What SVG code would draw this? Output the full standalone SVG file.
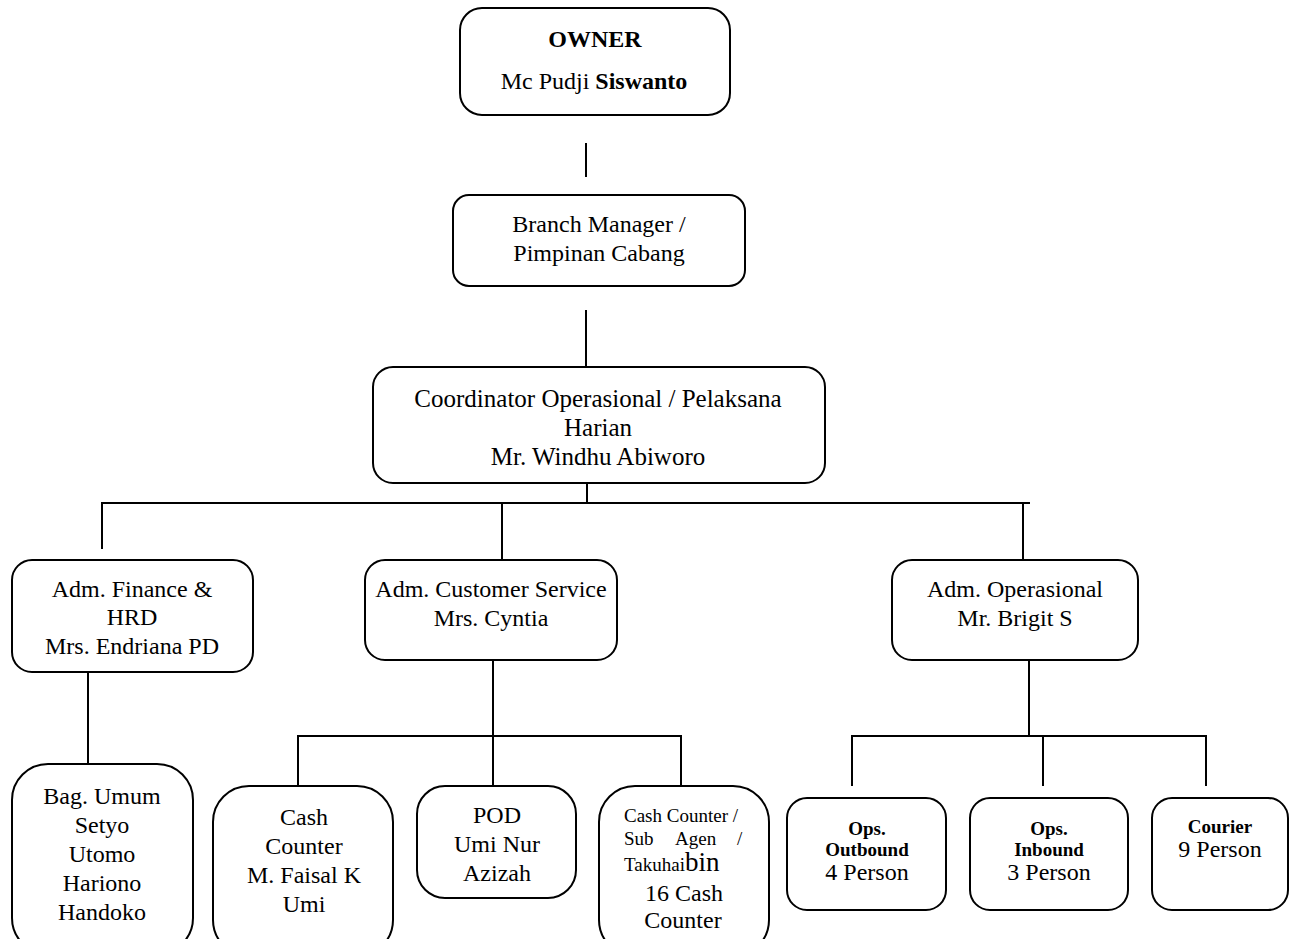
<svg xmlns="http://www.w3.org/2000/svg" width="1297" height="939" viewBox="0 0 1297 939">
<style>
.box{fill:#fff;stroke:#000;stroke-width:2}
.ln{stroke:#000;stroke-width:2;fill:none}
text{font-family:"Liberation Serif","Times New Roman",serif;fill:#000;text-anchor:middle;font-size:24px}
.b{font-weight:bold}
.s{font-size:19px}
.l{text-anchor:start}
.c{font-size:25px}
</style>
<defs>
<clipPath id="clipBottom"><rect x="0" y="0" width="1297" height="929"/></clipPath>
</defs>
<rect width="1297" height="939" fill="#fff"/>
<g id="connectors">
<line class="ln" x1="586" y1="143" x2="586" y2="177"/>
<line class="ln" x1="586" y1="310" x2="586" y2="367"/>
<line class="ln" x1="587" y1="483" x2="587" y2="503"/>
<polyline class="ln" points="102,549 102,503 1030,503"/>
<line class="ln" x1="502" y1="503" x2="502" y2="560"/>
<line class="ln" x1="1023" y1="503" x2="1023" y2="560"/>
<line class="ln" x1="88" y1="672" x2="88" y2="764"/>
<line class="ln" x1="493" y1="660" x2="493" y2="786"/>
<polyline class="ln" points="298,786 298,736 681,736 681,786"/>
<line class="ln" x1="1029" y1="660" x2="1029" y2="736"/>
<polyline class="ln" points="852,786 852,736 1206,736 1206,786"/>
<line class="ln" x1="1043" y1="736" x2="1043" y2="786"/>
</g>
<g id="owner">
<rect class="box" x="460" y="8" width="270" height="107" rx="22"/>
<text class="b" x="595" y="47">OWNER</text>
<text x="594" y="89">Mc Pudji <tspan class="b">Siswanto</tspan></text>
</g>
<g id="branch-manager">
<rect class="box" x="453" y="195" width="292" height="91" rx="16"/>
<text x="599" y="232">Branch Manager /</text>
<text x="599" y="261">Pimpinan Cabang</text>
</g>
<g id="coordinator">
<rect class="box" x="373" y="367" width="452" height="116" rx="20"/>
<text class="c" x="598" y="407">Coordinator Operasional / Pelaksana</text>
<text class="c" x="598" y="436">Harian</text>
<text class="c" x="598" y="465">Mr. Windhu Abiworo</text>
</g>
<g id="adm-finance">
<rect class="box" x="12" y="560" width="241" height="112" rx="20"/>
<text x="132" y="597">Adm. Finance &amp;</text>
<text x="132" y="625">HRD</text>
<text x="132" y="654">Mrs. Endriana PD</text>
</g>
<g id="adm-cs">
<rect class="box" x="365" y="560" width="252" height="100" rx="20"/>
<text x="491" y="597">Adm. Customer Service</text>
<text x="491" y="626">Mrs. Cyntia</text>
</g>
<g id="adm-ops">
<rect class="box" x="892" y="560" width="246" height="100" rx="20"/>
<text x="1015" y="597">Adm. Operasional</text>
<text x="1015" y="626">Mr. Brigit S</text>
</g>
<g id="bag-umum">
<rect class="box" x="12" y="764" width="181" height="190" rx="36"/>
<text x="102" y="804">Bag. Umum</text>
<text x="102" y="833">Setyo</text>
<text x="102" y="862">Utomo</text>
<text x="102" y="891">Hariono</text>
<text x="102" y="920">Handoko</text>
</g>
<g id="cash-counter">
<rect class="box" x="213" y="786" width="180" height="170" rx="36"/>
<text x="304" y="825">Cash</text>
<text x="304" y="854">Counter</text>
<text x="304" y="883">M. Faisal K</text>
<text x="304" y="912">Umi</text>
</g>
<g id="pod">
<rect class="box" x="417" y="786" width="159" height="112" rx="28"/>
<text x="497" y="823">POD</text>
<text x="497" y="852">Umi Nur</text>
<text x="497" y="881">Azizah</text>
</g>
<g id="sub-agen">
<rect class="box" x="599" y="786" width="170" height="170" rx="36"/>
<text class="s l" x="624" y="822">Cash Counter /</text>
<text class="s l" x="624" y="845">Sub</text>
<text class="s l" x="675" y="845">Agen</text>
<text class="s l" x="737" y="845">/</text>
<text class="l" x="624" y="871"><tspan class="s">Takuhai</tspan><tspan font-size="27">bin</tspan></text>
<text x="684" y="901">16 Cash</text>
<text x="683" y="928" font-size="21" clip-path="url(#clipBottom)">Counter</text>
</g>
<g id="ops-outbound">
<rect class="box" x="787" y="798" width="159" height="112" rx="20"/>
<text class="b s" x="867" y="835">Ops.</text>
<text class="b s" x="867" y="856">Outbound</text>
<text x="867" y="880" font-size="20">4 Person</text>
</g>
<g id="ops-inbound">
<rect class="box" x="970" y="798" width="158" height="112" rx="20"/>
<text class="b s" x="1049" y="835">Ops.</text>
<text class="b s" x="1049" y="856">Inbound</text>
<text x="1049" y="880" font-size="20">3 Person</text>
</g>
<g id="courier">
<rect class="box" x="1152" y="798" width="136" height="112" rx="20"/>
<text class="b s" x="1220" y="833">Courier</text>
<text x="1220" y="857" font-size="20">9 Person</text>
</g>
</svg>
